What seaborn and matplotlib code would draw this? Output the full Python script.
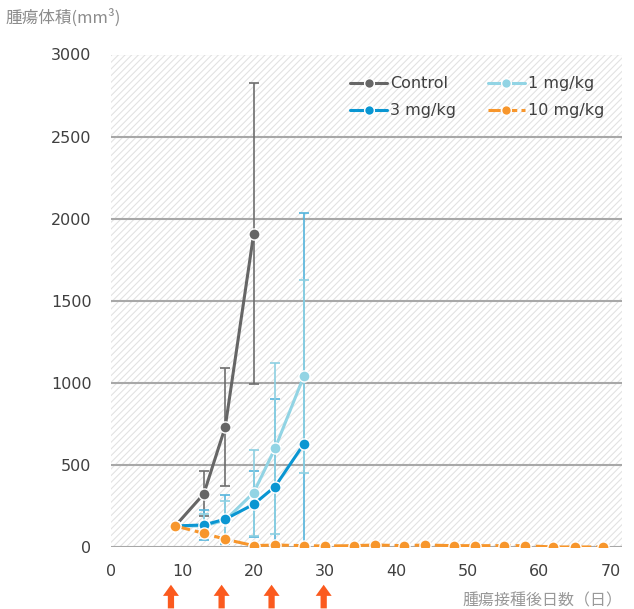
import numpy as np
import pandas as pd
import matplotlib
matplotlib.use("Agg")
import matplotlib.pyplot as plt
import seaborn as sns
from matplotlib.lines import Line2D

# days after tumour inoculation
days_short = [9, 13, 16, 20, 23, 27]
days_long = [9, 13, 16, 20, 23, 27, 30, 34, 37, 41, 44, 48, 51, 55, 58, 62, 65, 69]

control_days = [9, 13, 16, 20]
control_mean = [130, 325, 732, 1910]
control_sd = [0, 137, 360, 918]

mg1_mean = [130, 130, 165, 333, 604, 1040]
mg1_sd = [0, 70, 115, 262, 520, 590]

mg3_mean = [130, 136, 171, 262, 370, 628]
mg3_sd = [0, 90, 148, 200, 534, 1405]

mg10_mean = [130, 85, 49, 10, 14, 10, 8, 10, 14, 10, 14, 10, 10, 10, 10, 2, 2, 2]

dosing_days = [8.4, 15.5, 22.5, 29.8]

groups = ["Control", "1 mg/kg", "3 mg/kg", "10 mg/kg"]
colors = {"Control": "#666666", "1 mg/kg": "#92d4e4",
          "3 mg/kg": "#0a96d2", "10 mg/kg": "#f7962c"}
err_colors = {"Control": "#6e6e6e", "1 mg/kg": "#8dd0e2", "3 mg/kg": "#55b4dc"}

df = pd.concat([
    pd.DataFrame({"day": control_days, "vol": control_mean, "group": "Control"}),
    pd.DataFrame({"day": days_short, "vol": mg1_mean, "group": "1 mg/kg"}),
    pd.DataFrame({"day": days_short, "vol": mg3_mean, "group": "3 mg/kg"}),
    pd.DataFrame({"day": days_long, "vol": mg10_mean, "group": "10 mg/kg"}),
])

sns.set_style("white")
plt.rcParams['font.family'] = ['DejaVu Sans', 'Noto Sans CJK JP']
plt.rcParams['hatch.linewidth'] = 0.8
plt.rcParams['hatch.color'] = '#e2e2e2'

fig = plt.figure(figsize=(6.34, 6.09), dpi=100)
ax = fig.add_axes([111 / 634, 61.7 / 609, 511 / 634, 492.8 / 609])

# hatched background
ax.add_patch(plt.Rectangle((0, 0), 1, 1, transform=ax.transAxes, facecolor='white',
                           edgecolor='#e2e2e2', hatch='/////', lw=0, zorder=0))

for v in range(0, 3001, 500):
    ax.axhline(v, color='#a8a8a8', lw=1.5, zorder=1)

# error bars (SD)
ax.errorbar(control_days, control_mean, yerr=control_sd, fmt='none',
            ecolor=err_colors["Control"], elinewidth=1.2, capsize=3.5, capthick=1.2, zorder=2)
ax.errorbar(days_short, mg3_mean, yerr=mg3_sd, fmt='none',
            ecolor=err_colors["3 mg/kg"], elinewidth=1.2, capsize=3.5, capthick=1.2, zorder=2)
ax.errorbar(days_short, mg1_mean, yerr=mg1_sd, fmt='none',
            ecolor=err_colors["1 mg/kg"], elinewidth=1.2, capsize=3.5, capthick=1.2, zorder=2)

sns.lineplot(data=df, x='day', y='vol', hue='group', style='group', hue_order=groups,
             style_order=groups, palette=colors,
             markers={g: 'o' for g in groups},
             dashes={"Control": "", "1 mg/kg": "", "3 mg/kg": "", "10 mg/kg": (5, 1.6)},
             linewidth=2.2, markersize=8, markeredgecolor='white', markeredgewidth=1,
             legend=False, ax=ax, zorder=3)

ax.set_xlim(0, 71.6)
ax.set_ylim(0, 3000)
ax.set_xticks(range(0, 71, 10))
ax.set_yticks(range(0, 3001, 500))
ax.tick_params(axis='both', length=0, labelsize=11.5, labelcolor='#404040')
ax.tick_params(axis='y', pad=14)
ax.tick_params(axis='x', pad=12)
ax.set_xlabel('')
ax.set_ylabel('')
for s in ax.spines.values():
    s.set_visible(False)

# legend
order = ["Control", "3 mg/kg", "1 mg/kg", "10 mg/kg"]
handles = []
for g in order:
    ls = (0, (4, 1.4)) if g == "10 mg/kg" else '-'
    handles.append(Line2D([], [], color=colors[g], lw=2.2, ls=ls, marker='o', markersize=7,
                          markeredgecolor='white', markeredgewidth=1))
ax.legend(handles, order, ncol=2, frameon=False,
          loc='upper left', bbox_to_anchor=(0.44, 0.985), fontsize=11.5, handlelength=2.3,
          handletextpad=0.2, columnspacing=2.0, labelspacing=0.75, labelcolor='#404040')

# dosing arrows
for d in dosing_days:
    ax.annotate('', xy=(d, -0.076), xytext=(d, -0.124),
                xycoords=ax.get_xaxis_transform(), textcoords=ax.get_xaxis_transform(),
                arrowprops=dict(facecolor='#fb5a1e', edgecolor='none', width=4.5,
                                headwidth=11.5, headlength=8, shrink=0), annotation_clip=False)

fig.text(5 / 634, 1 - 18 / 609, '腫瘍体積(mm³)', ha='left', va='center', fontsize=12,
         color='#8c8c8c', family=['Noto Sans CJK JP', 'DejaVu Sans'])
fig.text(622 / 634, 1 - 601 / 609, '腫瘍接種後日数（日）', ha='right', va='center',
         fontsize=11.5, color='#999999', family=['Noto Sans CJK JP', 'DejaVu Sans'])

plt.savefig('out.png', dpi=100)
